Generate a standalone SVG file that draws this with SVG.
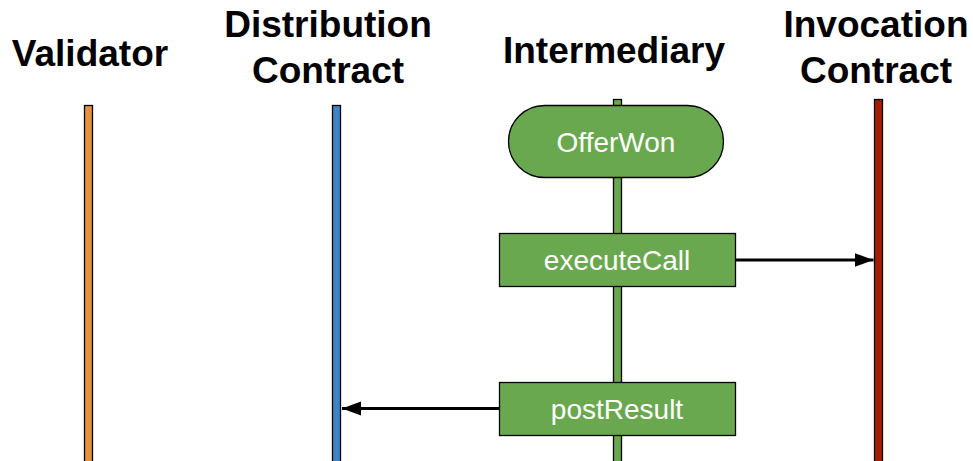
<svg xmlns="http://www.w3.org/2000/svg" width="973" height="461" viewBox="0 0 973 461">
  <defs>
    <marker id="arrow" markerUnits="userSpaceOnUse" markerWidth="20" markerHeight="16" refX="19" refY="8" orient="auto">
      <path d="M0,1 L19,8 L0,15 Z" fill="#000"/>
    </marker>
    <style>
      .title { font-family: "Liberation Sans", Arial, sans-serif; font-weight: bold; font-size: 37px; fill: #000; text-anchor: middle; }
      .label { font-family: "Liberation Sans", Arial, sans-serif; font-size: 28px; fill: #fff; text-anchor: middle; }
      .life { stroke: #000; stroke-width: 1.3; }
      .box { fill: #6aa84f; stroke: #000; stroke-width: 1.3; }
      .msg { stroke: #000; stroke-width: 3; fill: none; marker-end: url(#arrow); }
    </style>
  </defs>
  <rect width="973" height="461" fill="#fff"/>

  <!-- participant headers and lifelines -->
  <g id="validator">
    <text class="title" x="90" y="66">Validator</text>
    <rect class="life" x="84.5" y="105.5" width="8" height="360" fill="#e69138"/>
  </g>
  <g id="distribution-contract">
    <text class="title" x="328" y="37">Distribution</text>
    <text class="title" x="328" y="83">Contract</text>
    <rect class="life" x="332.5" y="105.5" width="8" height="360" fill="#3d85c6"/>
  </g>
  <g id="intermediary">
    <text class="title" x="614" y="63">Intermediary</text>
    <rect class="life" x="613.5" y="99.5" width="8" height="366" fill="#6aa84f"/>
  </g>
  <g id="invocation-contract">
    <text class="title" x="876" y="37">Invocation</text>
    <text class="title" x="876" y="83">Contract</text>
    <rect class="life" x="874.5" y="99.5" width="8" height="366" fill="#a61c00"/>
  </g>

  <!-- activity nodes on the intermediary lifeline -->
  <g id="offer-won">
    <rect class="box" x="508.5" y="105.5" width="215" height="72" rx="36" ry="36"/>
    <text class="label" x="616" y="152">OfferWon</text>
  </g>
  <g id="execute-call">
    <rect class="box" x="499.5" y="233.5" width="236" height="53"/>
    <text class="label" x="617" y="270">executeCall</text>
  </g>
  <g id="post-result">
    <rect class="box" x="499.5" y="382.5" width="236" height="53"/>
    <text class="label" x="617" y="418.5">postResult</text>
  </g>

  <!-- messages -->
  <g id="connectors">
    <line class="msg" x1="736" y1="260" x2="873.5" y2="260"/>
    <line class="msg" x1="499" y1="408.5" x2="342" y2="408.5"/>
  </g>
</svg>
